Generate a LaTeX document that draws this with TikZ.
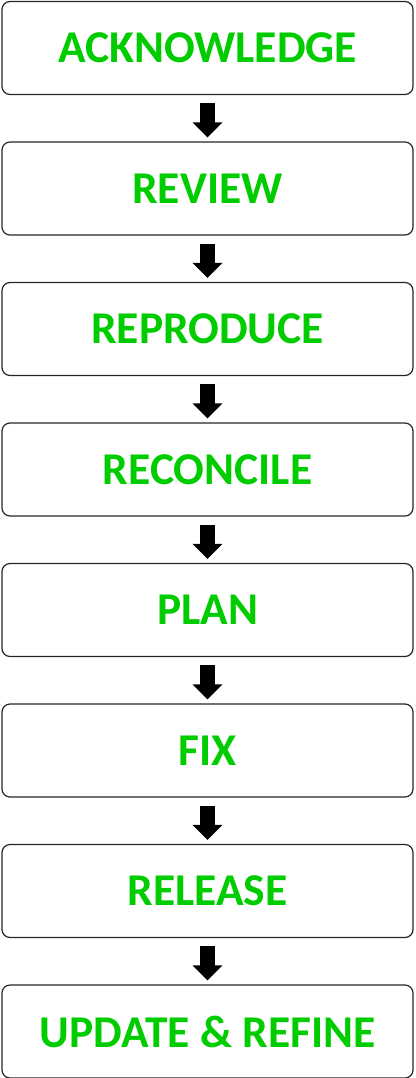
\documentclass[tikz,border=0pt]{standalone}
\usepackage{fontspec}
\setmainfont{Carlito}
\usetikzlibrary{positioning}
\usetikzlibrary{arrows.meta}
\definecolor{stagegreen}{RGB}{0,204,0}

\begin{document}
\begin{tikzpicture}
            [
                x=1pt, y=-1pt,
                stage/.style={rectangle, draw=black!85, line width=1.2pt, rounded corners=8pt, minimum width=411pt, minimum height=93pt, font=\fontsize{45.5}{50}\selectfont\bfseries, text=stagegreen},
                flow/.style={line width=15pt, -{Triangle[width=29pt,length=15pt]}, shorten <=8pt, shorten >=4pt}
            ]
            \useasboundingbox (0,0) rectangle (415,1078);
            %nodes
            \node[stage] at (207.5,48)                  (acknowledge)   {ACKNOWLEDGE};
            \node[stage, below=46.3pt of acknowledge]   (review)        {REVIEW};
            \node[stage, below=46.3pt of review]        (reproduce)     {REPRODUCE};
            \node[stage, below=46.3pt of reproduce]     (reconcile)     {RECONCILE};
            \node[stage, below=46.3pt of reconcile]     (plan)          {PLAN};
            \node[stage, below=46.3pt of plan]          (fix)           {FIX};
            \node[stage, below=46.3pt of fix]           (release)       {RELEASE};
            \node[stage, below=46.3pt of release]       (update)        {UPDATE \& REFINE};
            %arrows
            \draw[flow] (acknowledge.south) -- (review.north);
            \draw[flow] (review.south) -- (reproduce.north);
            \draw[flow] (reproduce.south) -- (reconcile.north);
            \draw[flow] (reconcile.south) -- (plan.north);
            \draw[flow] (plan.south) -- (fix.north);
            \draw[flow] (fix.south) -- (release.north);
            \draw[flow] (release.south) -- (update.north);
        \end{tikzpicture}
\end{document}
